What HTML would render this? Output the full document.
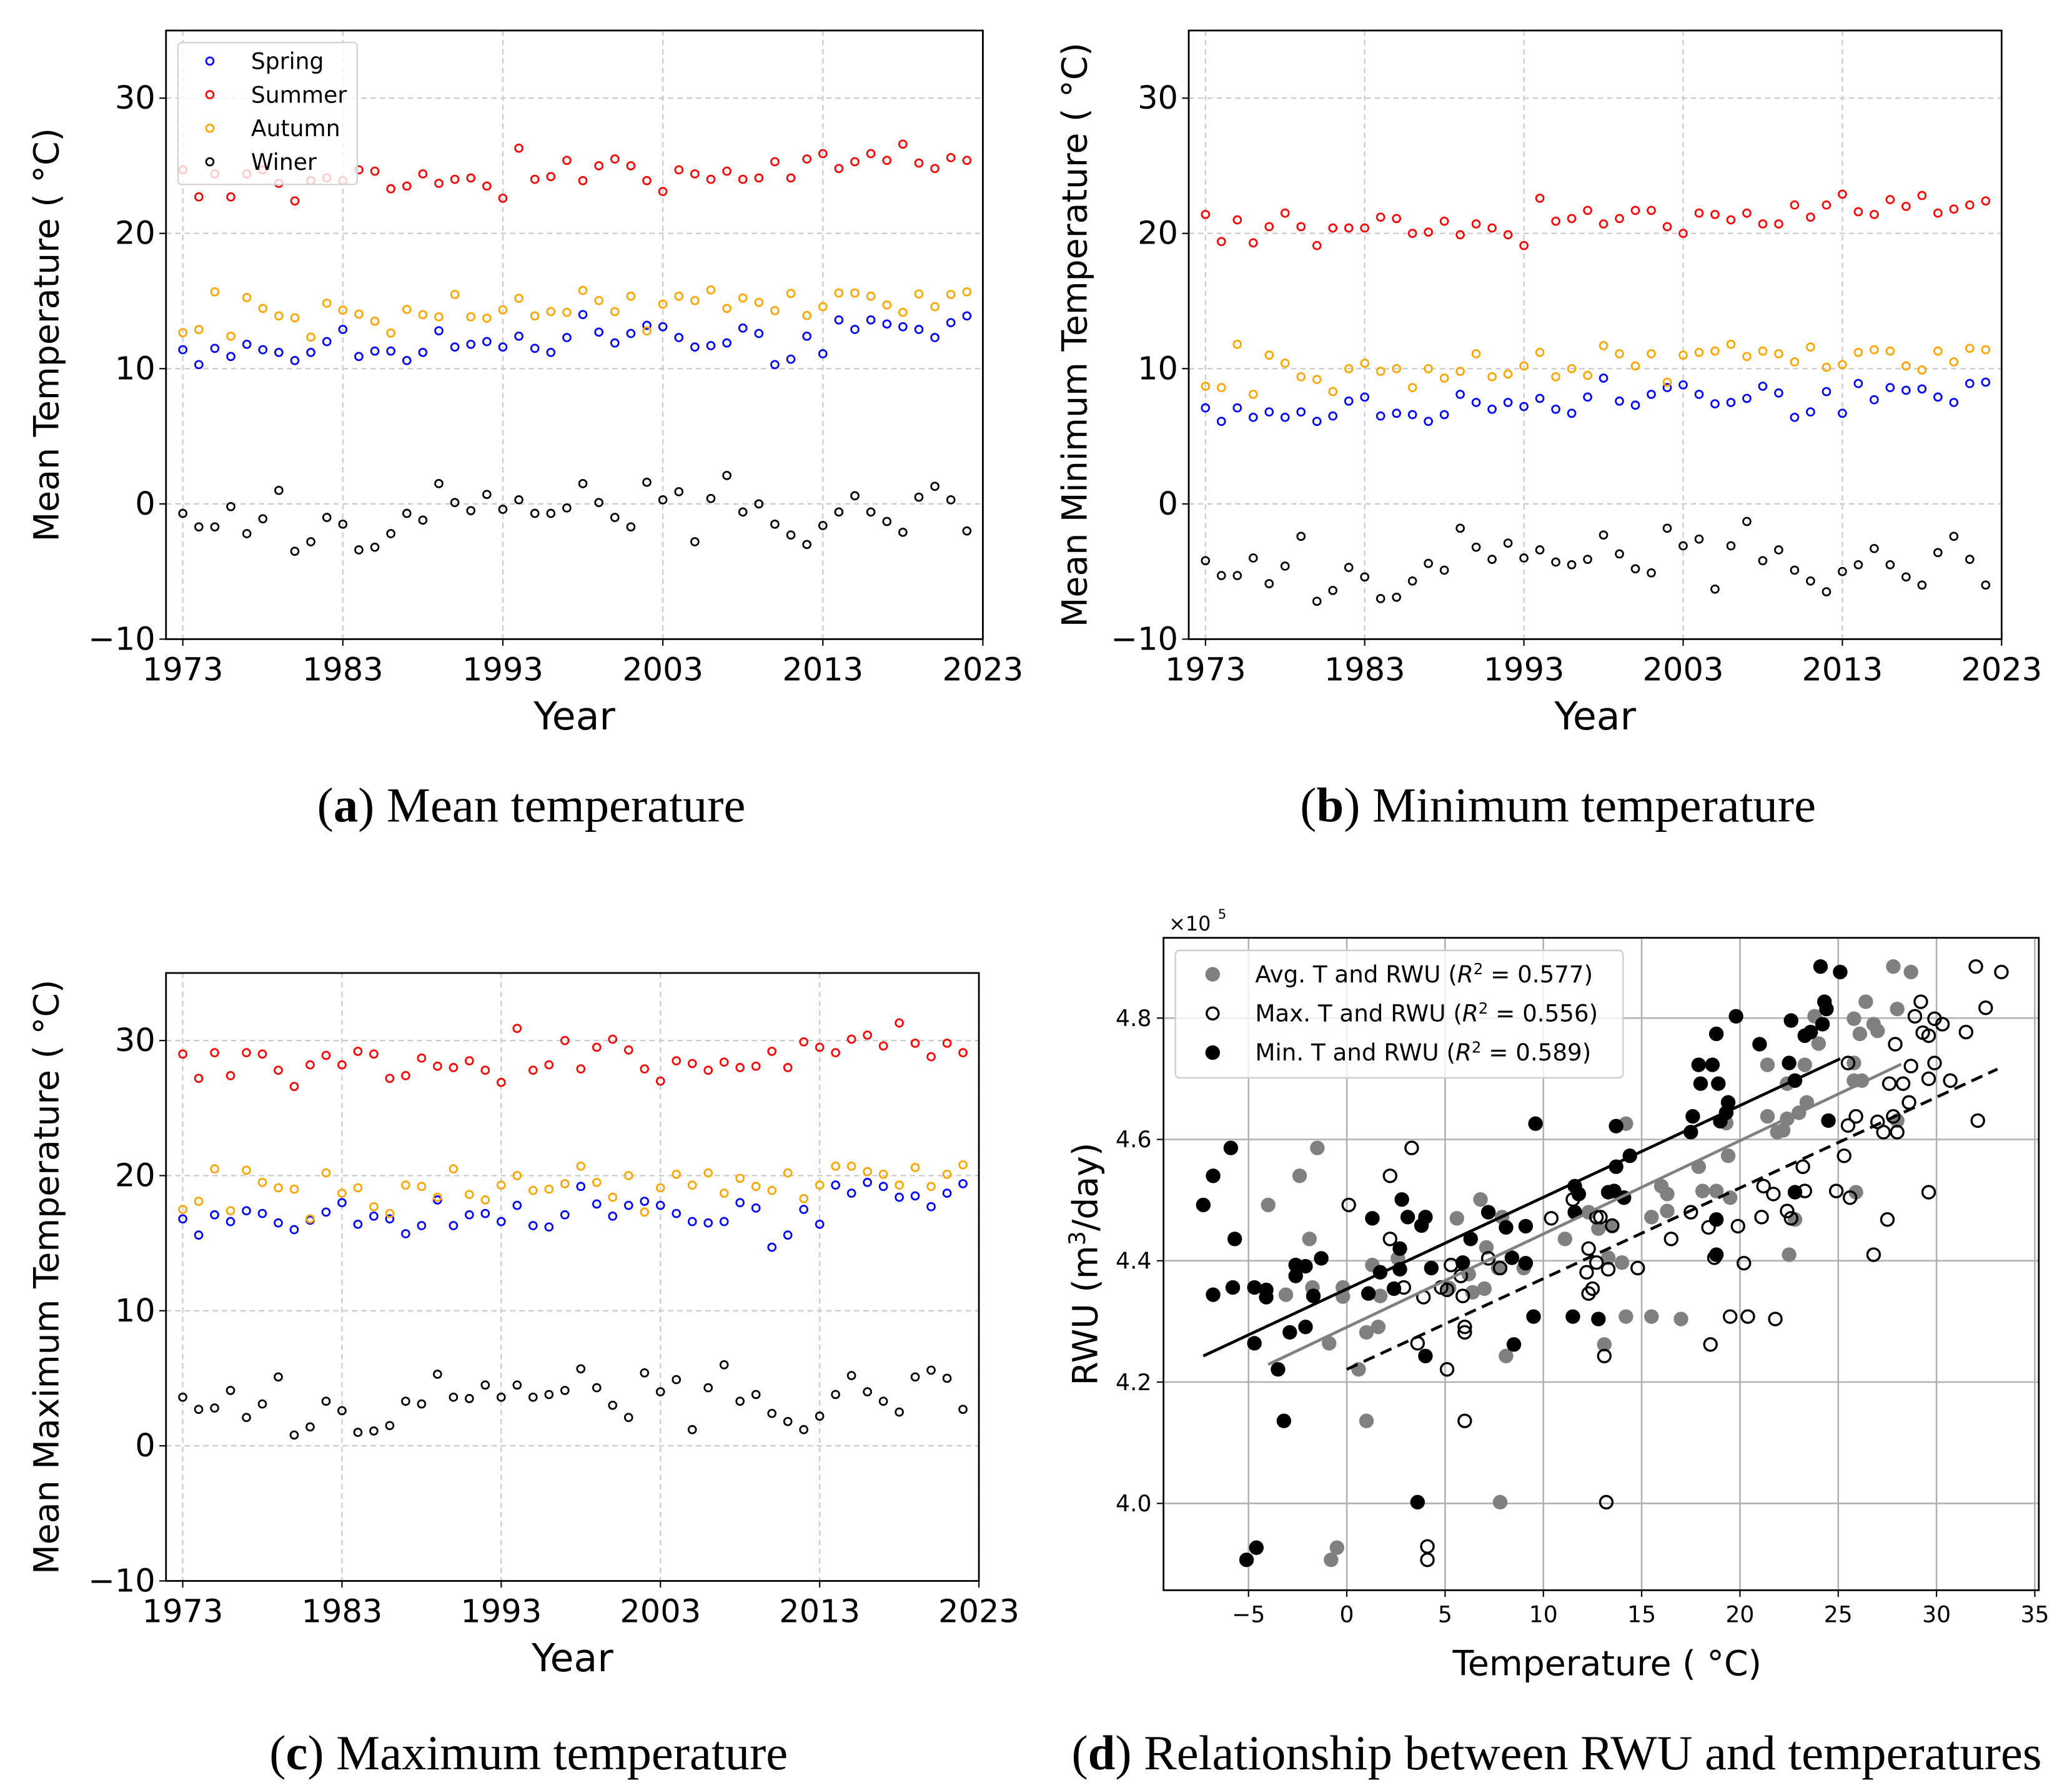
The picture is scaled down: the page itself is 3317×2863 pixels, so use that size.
<!DOCTYPE html>
<html><head><meta charset="utf-8"><style>
html,body{margin:0;padding:0;background:#fff;}
svg{display:block;}
text{font-family:"DejaVu Sans","Liberation Sans",sans-serif;}
.serif{font-family:"Liberation Serif","DejaVu Serif",serif;}
</style></head><body>
<svg id="fig" xmlns="http://www.w3.org/2000/svg" width="3317" height="2863" viewBox="0 0 1560 1347" preserveAspectRatio="none"></svg>
<script>
// ---------- Data: panels a–c (years 1973–2022) ----------
const years = Array.from({length:50},(_,i)=>1973+i);
const meanSpring=[11.4,10.3,11.5,10.9,11.8,11.4,11.2,10.6,11.2,12.0,12.9,10.9,11.3,11.3,10.6,11.2,12.8,11.6,11.8,12.0,11.6,12.4,11.5,11.2,12.3,14.0,12.7,11.9,12.6,13.2,13.1,12.3,11.6,11.7,11.9,13.0,12.6,10.3,10.7,12.4,11.1,13.6,12.9,13.6,13.3,13.1,12.9,12.3,13.4,13.9];
const meanSummer=[24.7,22.7,24.4,22.7,24.4,24.7,23.7,22.4,23.9,24.1,23.9,24.7,24.6,23.3,23.5,24.4,23.7,24.0,24.1,23.5,22.6,26.3,24.0,24.2,25.4,23.9,25.0,25.5,25.0,23.9,23.1,24.7,24.4,24.0,24.6,24.0,24.1,25.3,24.1,25.5,25.9,24.8,25.3,25.9,25.4,26.6,25.2,24.8,25.6,25.4];
const meanAutumn=[12.66,12.89,15.68,12.40,15.26,14.45,13.90,13.76,12.33,14.84,14.32,14.03,13.51,12.63,14.38,13.99,13.83,15.49,13.83,13.73,14.35,15.20,13.90,14.22,14.16,15.78,15.03,14.22,15.36,12.79,14.77,15.36,15.03,15.82,14.45,15.23,14.90,14.29,15.56,13.93,14.58,15.59,15.59,15.36,14.71,14.16,15.52,14.58,15.49,15.68];
const meanWinter=[-0.7,-1.7,-1.7,-0.2,-2.2,-1.1,1.0,-3.5,-2.8,-1.0,-1.5,-3.4,-3.2,-2.2,-0.7,-1.2,1.5,0.1,-0.5,0.7,-0.4,0.3,-0.7,-0.7,-0.3,1.5,0.1,-1.0,-1.7,1.6,0.3,0.9,-2.8,0.4,2.1,-0.6,0.0,-1.5,-2.3,-3.0,-1.6,-0.6,0.6,-0.6,-1.3,-2.1,0.5,1.3,0.3,-2.0];
const minSpring=[7.1,6.1,7.1,6.4,6.8,6.4,6.8,6.1,6.5,7.6,7.9,6.5,6.7,6.6,6.1,6.6,8.1,7.5,7.0,7.5,7.2,7.8,7.0,6.7,7.9,9.3,7.6,7.3,8.1,8.6,8.8,8.1,7.4,7.5,7.8,8.7,8.2,6.4,6.8,8.3,6.7,8.9,7.7,8.6,8.4,8.5,7.9,7.5,8.9,9.0];
const minSummer=[21.4,19.4,21.0,19.3,20.5,21.5,20.5,19.1,20.4,20.4,20.4,21.2,21.1,20.0,20.1,20.9,19.9,20.7,20.4,19.9,19.1,22.6,20.9,21.1,21.7,20.7,21.1,21.7,21.7,20.5,20.0,21.5,21.4,21.0,21.5,20.7,20.7,22.1,21.2,22.1,22.9,21.6,21.4,22.5,22.0,22.8,21.5,21.8,22.1,22.4];
const minAutumn=[8.7,8.6,11.8,8.1,11.0,10.4,9.4,9.2,8.3,10.0,10.4,9.8,10.0,8.6,10.0,9.3,9.8,11.1,9.4,9.6,10.2,11.2,9.4,10.0,9.5,11.7,11.1,10.2,11.1,9.0,11.0,11.2,11.3,11.8,10.9,11.3,11.1,10.5,11.6,10.1,10.3,11.2,11.4,11.3,10.2,9.9,11.3,10.5,11.5,11.4];
const minWinter=[-4.2,-5.3,-5.3,-4.0,-5.9,-4.6,-2.4,-7.2,-6.4,-4.7,-5.4,-7.0,-6.9,-5.7,-4.4,-4.9,-1.8,-3.2,-4.1,-2.9,-4.0,-3.4,-4.3,-4.5,-4.1,-2.3,-3.7,-4.8,-5.1,-1.8,-3.1,-2.6,-6.3,-3.1,-1.3,-4.2,-3.4,-4.9,-5.7,-6.5,-5.0,-4.5,-3.3,-4.5,-5.4,-6.0,-3.6,-2.4,-4.1,-6.0];
const maxSpring=[16.8,15.6,17.1,16.6,17.4,17.2,16.5,16.0,16.7,17.3,18.0,16.4,17.0,16.8,15.7,16.3,18.2,16.3,17.1,17.2,16.6,17.8,16.3,16.2,17.1,19.2,17.9,17.0,17.8,18.1,17.8,17.2,16.6,16.5,16.6,18.0,17.6,14.7,15.6,17.5,16.4,19.3,18.7,19.5,19.2,18.4,18.5,17.7,18.7,19.4];
const maxSummer=[29.0,27.2,29.1,27.4,29.1,29.0,27.8,26.6,28.2,28.9,28.2,29.2,29.0,27.2,27.4,28.7,28.1,28.0,28.5,27.8,26.9,30.9,27.8,28.2,30.0,27.9,29.5,30.1,29.3,27.9,27.0,28.5,28.3,27.8,28.4,28.0,28.1,29.2,28.0,29.9,29.5,29.1,30.1,30.4,29.6,31.3,29.8,28.8,29.8,29.1];
const maxAutumn=[17.5,18.1,20.5,17.4,20.4,19.5,19.1,19.0,16.8,20.2,18.7,19.1,17.7,17.2,19.3,19.2,18.4,20.5,18.6,18.2,19.3,20.0,18.9,19.0,19.4,20.7,19.5,18.4,20.0,17.3,19.1,20.1,19.3,20.2,18.7,19.8,19.2,18.9,20.2,18.3,19.3,20.7,20.7,20.3,20.1,19.3,20.6,19.2,20.1,20.8];
const maxWinter=[3.6,2.7,2.8,4.1,2.1,3.1,5.1,0.8,1.4,3.3,2.6,1.0,1.1,1.5,3.3,3.1,5.3,3.6,3.5,4.5,3.6,4.5,3.6,3.8,4.1,5.7,4.3,3.0,2.1,5.4,4.0,4.9,1.2,4.3,6.0,3.3,3.8,2.4,1.8,1.2,2.2,3.8,5.2,4.0,3.3,2.5,5.1,5.6,5.0,2.7];
const yearTicks=[1973,1983,1993,2003,2013,2023];
const tempTicks=[-10,0,10,20,30];
const seasonNames=["Spring","Summer","Autumn","Winer"];
// ---------- Data: panel d ----------
const avgT=[-4.0,-3.1,-2.4,-1.9,-1.5,-1.75,-0.9,-0.2,-0.2,0.6,1.0,1.0,1.3,1.6,1.7,2.6,-0.8,-0.5,5.6,5.2,6.2,6.4,6.8,7.1,7.0,7.8,8.1,7.9,7.7,9.0,11.1,12.3,12.8,13.1,13.3,13.5,14.0,14.2,14.2,15.5,15.5,16.0,16.3,16.3,17.0,17.9,18.1,18.8,19.4,19.5,19.3,21.4,21.4,21.9,22.2,22.4,22.5,22.8,22.4,23.0,23.3,23.4,23.8,24.0,25.8,25.8,26.1,26.4,26.8,27.0,27.8,28.7,28.0,28.0,25.8,25.9,26.2];
const avgR=[4.492,4.344,4.540,4.436,4.586,4.356,4.264,4.341,4.356,4.221,4.136,4.282,4.393,4.291,4.342,4.404,3.907,3.927,4.470,4.355,4.378,4.348,4.501,4.422,4.354,4.002,4.243,4.472,4.388,4.388,4.436,4.480,4.453,4.262,4.405,4.457,4.397,4.308,4.626,4.308,4.472,4.523,4.510,4.482,4.304,4.555,4.515,4.515,4.573,4.504,4.627,4.723,4.638,4.612,4.615,4.692,4.410,4.468,4.634,4.644,4.723,4.661,4.803,4.758,4.697,4.799,4.774,4.827,4.790,4.779,4.885,4.876,4.815,4.631,4.726,4.513,4.697];
const maxT=[0.1,2.2,2.2,3.3,3.6,2.9,3.9,4.1,4.1,4.8,5.1,5.1,5.3,5.8,5.9,6.0,6.0,6.0,7.2,7.8,10.4,11.5,12.3,12.2,12.3,12.5,12.7,12.9,12.7,13.1,13.2,13.3,13.5,14.8,16.5,17.5,18.4,18.5,18.7,19.5,19.9,20.2,20.4,21.1,21.2,21.7,21.8,22.4,22.6,23.2,23.3,24.9,25.3,25.6,25.5,25.5,25.9,26.8,27.0,27.3,27.5,27.6,27.9,28.0,27.8,28.3,28.6,28.7,28.9,29.2,29.3,29.6,29.6,29.6,29.9,29.9,30.3,30.7,31.5,32.0,32.1,32.5,33.3];
const maxR=[4.492,4.540,4.436,4.586,4.264,4.356,4.340,3.929,3.907,4.356,4.221,4.352,4.393,4.375,4.342,4.291,4.282,4.136,4.404,4.388,4.470,4.501,4.420,4.381,4.346,4.354,4.472,4.472,4.397,4.243,4.002,4.386,4.458,4.388,4.436,4.480,4.455,4.262,4.405,4.308,4.457,4.396,4.308,4.472,4.523,4.510,4.304,4.482,4.470,4.555,4.515,4.515,4.573,4.504,4.726,4.623,4.638,4.410,4.629,4.612,4.468,4.692,4.757,4.612,4.638,4.692,4.661,4.721,4.803,4.827,4.776,4.771,4.700,4.513,4.726,4.799,4.790,4.697,4.777,4.885,4.631,4.817,4.876];
const minT=[-7.3,-6.8,-6.8,-5.9,-5.7,-5.8,-4.7,-4.7,-4.1,-4.1,-3.5,-3.2,-2.9,-2.6,-2.6,-2.1,-2.1,-1.7,-1.3,1.1,1.3,1.7,2.4,2.7,2.7,2.8,3.1,3.8,4.0,4.0,4.3,3.6,5.9,6.3,7.2,8.1,8.4,8.5,9.1,9.1,9.5,9.6,11.6,11.6,11.5,11.8,12.8,13.3,13.7,13.7,13.6,14.1,14.4,17.5,17.6,17.9,18.0,18.6,18.8,18.9,18.8,18.8,19.0,19.3,19.4,19.8,21.0,22.5,22.6,22.8,22.8,23.3,23.6,24.1,24.3,24.2,24.4,24.5,25.1,-5.1,-4.6];
const minR=[4.492,4.540,4.344,4.586,4.436,4.356,4.356,4.264,4.352,4.340,4.221,4.136,4.282,4.393,4.375,4.391,4.291,4.342,4.404,4.346,4.470,4.381,4.354,4.420,4.386,4.501,4.472,4.458,4.472,4.243,4.388,4.002,4.397,4.436,4.480,4.455,4.405,4.262,4.457,4.396,4.308,4.626,4.523,4.480,4.308,4.510,4.304,4.513,4.622,4.555,4.515,4.504,4.573,4.612,4.638,4.723,4.692,4.723,4.774,4.692,4.410,4.468,4.630,4.644,4.661,4.803,4.757,4.726,4.796,4.697,4.513,4.771,4.777,4.885,4.827,4.790,4.815,4.631,4.876,3.907,3.927];
const fitMinT=[-7.3,25.1], fitMinR=[4.243,4.733];
const fitAvgT=[-4.0,28.2], fitAvgR=[4.229,4.724];
const fitMaxT=[0.0,33.1], fitMaxR=[4.221,4.716];
const dXTicks=[-5,0,5,10,15,20,25,30,35];
const dYTicks=[4.0,4.2,4.4,4.6,4.8];
const legendLabels=["Avg. T and RWU (","Max. T and RWU (","Min. T and RWU ("];
const r2Values=["0.577","0.556","0.589"];

const NS="http://www.w3.org/2000/svg";
const svg=document.getElementById('fig');
function el(tag,attrs,parent,text){const e=document.createElementNS(NS,tag);for(const k in attrs)e.setAttribute(k,attrs[k]);if(text!==undefined)e.textContent=text;(parent||svg).appendChild(e);return e;}

function seasonPanel(cfg){
  const g=el('g',{});
  
  
  const {L,R,T,B}=cfg;
  const x0=1971.95,x1=2023,y0=-10,y1=35;
  const sx=v=>L+(v-x0)/(x1-x0)*(R-L);
  const sy=v=>B-(v-y0)/(y1-y0)*(B-T);
  yearTicks.forEach(t=>{
    const gl=el('line',{x1:sx(t),x2:sx(t),y1:T,y2:B,stroke:'#c8c8c8','stroke-width':1,'stroke-dasharray':'4,3'},g);
    
    
    el('line',{x1:sx(t),x2:sx(t),y1:B,y2:B+5,stroke:'#000','stroke-width':1},g);
    const tl=el('text',{x:sx(t),y:B+31,'font-size':24,'text-anchor':'middle'},g,String(t));
    
    
  });
  tempTicks.forEach(t=>{
    const gl=el('line',{x1:L,x2:R,y1:sy(t),y2:sy(t),stroke:'#c8c8c8','stroke-width':1,'stroke-dasharray':'4,3'},g);
    
    
    el('line',{x1:L-5,x2:L,y1:sy(t),y2:sy(t),stroke:'#000','stroke-width':1},g);
    const tl=el('text',{x:L-8,y:sy(t)+8,'font-size':24,'text-anchor':'end'},g,t<0?'\u2212'+Math.abs(t):String(t));
    
    
  });
  const colors=['#0000ff','#ff0000','#ffa500','#000000'];
  cfg.series.forEach((arr,si)=>{
    arr.forEach((v,i)=>{
      const c=el('circle',{cx:sx(years[i]),cy:sy(v),r:2.8,fill:'none',stroke:colors[si],'stroke-width':1.3},g);
      
      
    });
  });
  const fr=el('rect',{x:L,y:T,width:R-L,height:B-T,fill:'none',stroke:'#000','stroke-width':1.3},g);
  
  
  const xt=el('text',{x:(L+R)/2,y:B+68,'font-size':29,'text-anchor':'middle'},g,'Year');
  
  
  const cy=(T+B)/2;
  const yt=el('text',{x:cfg.ylx,y:cy,'font-size':26,'text-anchor':'middle',transform:`rotate(-90 ${cfg.ylx} ${cy})`},g,cfg.ylabel);
  
  
  if(cfg.legend){
    const lg=el('g',{},g);
    
    
    el('rect',{x:134,y:32,width:135,height:107,rx:3,fill:'#fff','fill-opacity':0.8,stroke:'#d0d0d0','stroke-width':1},lg);
    seasonNames.forEach((n,i)=>{
      const yy=46+i*25.3;
      const le=el('g',{},lg);
      
      
      el('circle',{cx:158,cy:yy,r:2.8,fill:'none',stroke:colors[i],'stroke-width':1.3},le);
      el('text',{x:189,y:yy+6,'font-size':17},le,n);
    });
  }
}
seasonPanel({name:'panel-a-mean',L:125,R:740,T:23,B:481.5,series:[meanSpring,meanSummer,meanAutumn,meanWinter],ylabel:'Mean Temperature ( \u00B0C)',ylx:44,legend:true});
seasonPanel({name:'panel-b-min',L:895,R:1507,T:23,B:481.5,series:[minSpring,minSummer,minAutumn,minWinter],ylabel:'Mean Minimum Temperature ( \u00B0C)',ylx:818});
seasonPanel({name:'panel-c-max',L:125,R:737,T:733,B:1191,series:[maxSpring,maxSummer,maxAutumn,maxWinter],ylabel:'Mean Maximum Temperature ( \u00B0C)',ylx:44});

// ---------- Panel d ----------
(function(){
  const g=el('g',{});
  
  
  const L=876,R=1535,T=706.5,B=1198;
  const sx=v=>1014+v*14.8;
  const sy=v=>767-(v-4.8)*457;
  dXTicks.forEach(t=>{
    const gl=el('line',{x1:sx(t),x2:sx(t),y1:T,y2:B,stroke:'#b0b0b0','stroke-width':1.2},g);
    
    
    el('line',{x1:sx(t),x2:sx(t),y1:B,y2:B+5,stroke:'#000','stroke-width':1},g);
    const tl=el('text',{x:sx(t),y:B+24,'font-size':17,'text-anchor':'middle'},g,t<0?'\u2212'+Math.abs(t):String(t));
    
    
  });
  dYTicks.forEach(t=>{
    const gl=el('line',{x1:L,x2:R,y1:sy(t),y2:sy(t),stroke:'#b0b0b0','stroke-width':1.2},g);
    
    
    el('line',{x1:L-5,x2:L,y1:sy(t),y2:sy(t),stroke:'#000','stroke-width':1},g);
    const tl=el('text',{x:L-9,y:sy(t)+6,'font-size':17,'text-anchor':'end'},g,t.toFixed(1));
    
    
  });
  avgT.forEach((t,i)=>{const c=el('circle',{cx:sx(t),cy:sy(avgR[i]),r:5.5,fill:'#808080'},g);
    
    });
  maxT.forEach((t,i)=>{const c=el('circle',{cx:sx(t),cy:sy(maxR[i]),r:4.7,fill:'none',stroke:'#000','stroke-width':1.6},g);
    
    });
  minT.forEach((t,i)=>{const c=el('circle',{cx:sx(t),cy:sy(minR[i]),r:5.5,fill:'#000'},g);
    
    });
  const l1=el('line',{x1:sx(fitMinT[0]),y1:sy(fitMinR[0]),x2:sx(fitMinT[1]),y2:sy(fitMinR[1]),stroke:'#000','stroke-width':2.2},g);
  
  
  const l2=el('line',{x1:sx(fitAvgT[0]),y1:sy(fitAvgR[0]),x2:sx(fitAvgT[1]),y2:sy(fitAvgR[1]),stroke:'#808080','stroke-width':2.2},g);
  
  
  const l3=el('line',{x1:sx(fitMaxT[0]),y1:sy(fitMaxR[0]),x2:sx(fitMaxT[1]),y2:sy(fitMaxR[1]),stroke:'#000','stroke-width':2.2,'stroke-dasharray':'9,5'},g);
  
  
  const fr=el('rect',{x:L,y:T,width:R-L,height:B-T,fill:'none',stroke:'#000','stroke-width':1.3},g);
  
  
  const ex=el('text',{x:880,y:701,'font-size':15},g,'\u00D710');
  
  
  el('text',{x:917,y:692,'font-size':10},g,'5');
  // legend
  const lg=el('g',{},g);
  
  
  el('rect',{x:885,y:716,width:337,height:96,rx:3,fill:'#fff','fill-opacity':0.8,stroke:'#d0d0d0','stroke-width':1.2},lg);
  const ys=[734,763.5,793];
  legendLabels.forEach((lab,i)=>{
    const le=el('g',{},lg);
    
    
    if(i===0) el('circle',{cx:913,cy:ys[i],r:5.5,fill:'#808080'},le);
    if(i===1) el('circle',{cx:913,cy:ys[i],r:4.5,fill:'none',stroke:'#000','stroke-width':1.6},le);
    if(i===2) el('circle',{cx:913,cy:ys[i],r:5.5,fill:'#000'},le);
    const t=el('text',{x:945,y:ys[i]+6,'font-size':17.5},le);
    t.appendChild(document.createTextNode(lab));
    el('tspan',{'font-style':'italic'},t,'R');
    el('tspan',{dy:-6,'font-size':11.5},t,'2');
    el('tspan',{dy:6},t,' = '+r2Values[i]+')');
  });
  const xt=el('text',{x:1210,y:1262,'font-size':26,'text-anchor':'middle'},g,'Temperature ( \u00B0C)');
  
  
  const cy=(T+B)/2;
  const yt=el('text',{x:826,y:cy,'font-size':26,'text-anchor':'middle',transform:`rotate(-90 826 ${cy})`},g);
  
  
  yt.appendChild(document.createTextNode('RWU (m'));
  el('tspan',{dy:-9,'font-size':17},yt,'3');
  el('tspan',{dy:9},yt,'/day)');
})();

// ---------- Captions ----------
const caps=[[400,619,'a',' Mean temperature'],[1173,619,'b',' Minimum temperature'],[398,1333,'c',' Maximum temperature'],[1172,1333,'d',' Relationship between RWU and temperatures']];
caps.forEach(c=>{
  const t=el('text',{x:c[0],y:c[1],'font-size':37,'text-anchor':'middle',class:'serif'});
  
  
  t.appendChild(document.createTextNode('('));
  el('tspan',{'font-weight':'bold'},t,c[2]);
  t.appendChild(document.createTextNode(')'+c[3]));
});
</script>
</body></html>
